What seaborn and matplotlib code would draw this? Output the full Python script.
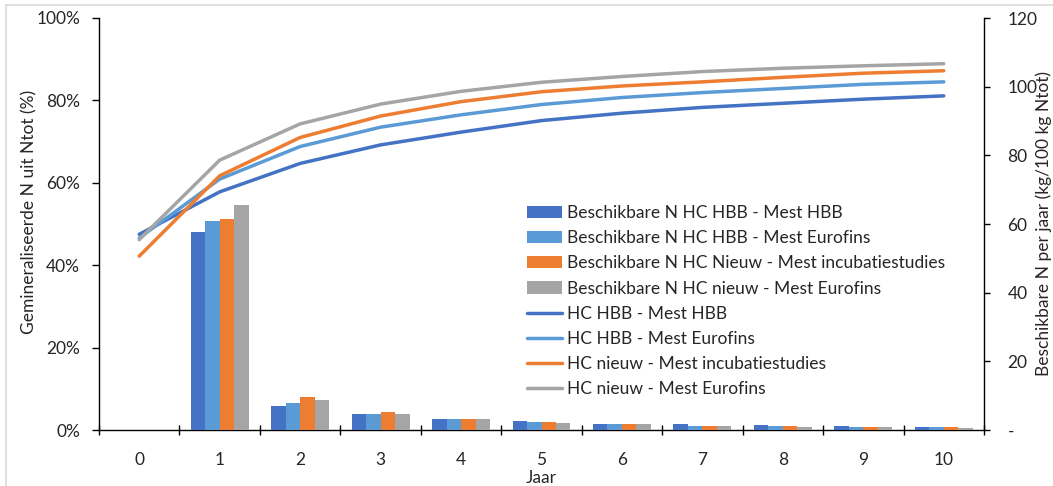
import matplotlib
matplotlib.use("Agg")
import matplotlib.pyplot as plt
import matplotlib.lines as mlines
import matplotlib.patches as mpatches
import seaborn as sns
import pandas as pd
from matplotlib.ticker import FixedLocator, FuncFormatter

# ---------------- data ----------------
years = list(range(11))

bar_series = [
    "Beschikbare N HC HBB - Mest HBB",
    "Beschikbare N HC HBB - Mest Eurofins",
    "Beschikbare N HC Nieuw - Mest incubatiestudies",
    "Beschikbare N HC nieuw - Mest Eurofins",
]
bar_hbb_hbb = [0, 57.6, 7.0, 4.8, 3.3, 2.6, 1.85, 1.65, 1.35, 1.05, 0.8]
bar_hbb_euro = [0, 60.9, 8.0, 4.8, 3.3, 2.3, 1.85, 1.25, 1.05, 0.8, 0.8]
bar_new_incub = [0, 61.6, 9.5, 5.3, 3.3, 2.3, 1.85, 1.25, 1.05, 0.8, 0.8]
bar_new_euro = [0, 65.4, 8.7, 4.8, 3.1, 2.0, 1.65, 1.05, 0.8, 0.8, 0.5]

line_series = [
    "HC HBB - Mest HBB",
    "HC HBB - Mest Eurofins",
    "HC nieuw - Mest incubatiestudies",
    "HC nieuw - Mest Eurofins",
]
line_hbb_hbb = [47.5, 57.8, 64.7, 69.2, 72.3, 75.1, 76.9, 78.3, 79.3, 80.3, 81.1]
line_hbb_euro = [46.6, 60.9, 68.8, 73.5, 76.5, 79.0, 80.7, 81.9, 82.9, 83.9, 84.5]
line_new_incub = [42.2, 61.7, 71.0, 76.2, 79.7, 82.1, 83.5, 84.5, 85.6, 86.6, 87.2]
line_new_euro = [46.2, 65.5, 74.3, 79.1, 82.2, 84.4, 85.8, 87.0, 87.8, 88.4, 88.9]

left_ticks = [0, 20, 40, 60, 80, 100]
right_ticks = [0, 20, 40, 60, 80, 100, 120]

colors = ["#4472C4", "#5B9BD5", "#ED7D31", "#A5A5A5"]

# ---------------- tables ----------------
bar_df = pd.DataFrame({
    "Jaar": years * 4,
    "value": bar_hbb_hbb + bar_hbb_euro + bar_new_incub + bar_new_euro,
    "series": [s for s in bar_series for _ in years],
})
line_df = pd.DataFrame({
    "Jaar": years * 4,
    "value": line_hbb_hbb + line_hbb_euro + line_new_incub + line_new_euro,
    "series": [s for s in line_series for _ in years],
})

# ---------------- style ----------------
sns.set_style("white")
FONT = ["Lato", "DejaVu Sans"]
plt.rcParams["font.family"] = FONT
TXT = "#262626"
plt.rcParams["text.color"] = TXT
plt.rcParams["axes.labelcolor"] = TXT
plt.rcParams["xtick.color"] = TXT
plt.rcParams["ytick.color"] = TXT
FS = 12.5

W, H = 1053, 486
fig = plt.figure(figsize=(W / 100, H / 100), dpi=100)
ax1 = fig.add_axes([99 / W, 1 - 430 / H, 885 / W, 412 / H])
ax2 = ax1.twinx()

# bars on right axis
sns.barplot(data=bar_df, x="Jaar", y="value", hue="series", hue_order=bar_series,
            palette=colors, saturation=1, width=0.72, gap=0, linewidth=0,
            errorbar=None, legend=False, ax=ax2)
# lines on left axis
sns.lineplot(data=line_df, x="Jaar", y="value", hue="series", hue_order=line_series,
             palette=colors, linewidth=2.5, estimator=None, sort=False,
             legend=False, ax=ax1)

# ---------------- axes ----------------
ax1.set_xlim(-0.5, 10.5)
ax1.set_ylim(0, 100)
ax2.set_ylim(0, 120)

ax1.xaxis.set_major_locator(FixedLocator(years))
ax1.xaxis.set_major_formatter(FuncFormatter(lambda v, p: f"{int(round(v))}"))
ax1.xaxis.set_minor_locator(FixedLocator([y - 0.5 for y in years] + [10.5]))
ax1.tick_params(axis="x", which="major", length=0, pad=16, labelsize=FS)
ax1.tick_params(axis="x", which="minor", direction="inout", length=7, width=1.0,
                color="black", bottom=True)

ax1.set_yticks(left_ticks)
ax1.set_yticklabels([f"{t}%" for t in left_ticks])
ax1.tick_params(axis="y", which="major", direction="out", length=5, width=1.0,
                color="black", pad=8.5, labelsize=FS)

ax2.set_yticks(right_ticks)
ax2.set_yticklabels(["-" if t == 0 else str(t) for t in right_ticks])
ax2.tick_params(axis="y", which="major", direction="out", length=4, width=1.0,
                color="black", pad=13, labelsize=FS)
for lab in ax2.get_yticklabels():
    lab.set_horizontalalignment("left")

for ax in (ax1, ax2):
    for s in ax.spines.values():
        s.set_visible(False)
        s.set_color("black")
        s.set_linewidth(1.0)
ax1.spines["left"].set_visible(True)
ax1.spines["bottom"].set_visible(True)
ax2.spines["right"].set_visible(True)
ax1.grid(False)
ax2.grid(False)

ax1.set_xlabel("Jaar", fontsize=FS)
ax1.xaxis.set_label_coords(0.5, -0.098)
ax1.set_ylabel("Gemineraliseerde N uit Ntot (%)", fontsize=FS)
ax1.yaxis.set_label_coords(-0.069, 0.53)
ax2.set_ylabel("Beschikbare N per jaar (kg/100 kg Ntot)", fontsize=FS)
ax2.yaxis.set_label_coords(1.058, 0.5)

# ---------------- legend ----------------
handles = [mpatches.Patch(facecolor=c, edgecolor="none") for c in colors]
handles += [mlines.Line2D([], [], color=c, linewidth=2.5) for c in colors]
labels = bar_series + line_series
fig.legend(handles, labels, loc="upper left",
           bbox_to_anchor=(527 / W, 1 - 205 / H), frameon=False,
           fontsize=FS, handlelength=2.0, handletextpad=0.3,
           labelspacing=0.53, borderpad=0, borderaxespad=0)

# ---------------- chart-area border (top/left) ----------------
fig.add_artist(mlines.Line2D([6 / W, 1], [1 - 5 / H, 1 - 5 / H],
                             transform=fig.transFigure, color="#D9D9D9", linewidth=1.2))
fig.add_artist(mlines.Line2D([6 / W, 6 / W], [0, 1 - 5 / H],
                             transform=fig.transFigure, color="#D9D9D9", linewidth=1.2))

fig.savefig("out.png", dpi=100)
